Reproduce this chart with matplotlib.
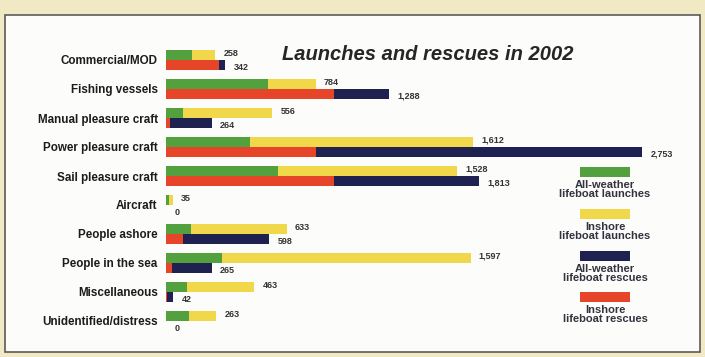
import matplotlib.pyplot as plt
from matplotlib.patches import Rectangle

# categories, top to bottom
categories = ['Commercial/MOD', 'Fishing vessels', 'Manual pleasure craft',
              'Power pleasure craft', 'Sail pleasure craft', 'Aircraft',
              'People ashore', 'People in the sea', 'Miscellaneous',
              'Unidentified/distress']

# launches (top bar of each pair)
allweather_launches = [137, 537, 89, 442, 589, 15, 130, 295, 110, 121]
inshore_launches = [121, 247, 467, 1170, 939, 20, 503, 1302, 353, 142]
launch_totals = [258, 784, 556, 1612, 1528, 35, 633, 1597, 463, 263]

# rescues (bottom bar of each pair)
inshore_rescues = [306, 971, 23, 867, 971, 0, 98, 35, 5, 0]
allweather_rescues = [36, 317, 241, 1886, 842, 0, 500, 230, 37, 0]
rescue_totals = [342, 1288, 264, 2753, 1813, 0, 598, 265, 42, 0]

legend_labels = ['All-weather\nlifeboat launches', 'Inshore\nlifeboat launches',
                 'All-weather\nlifeboat rescues', 'Inshore\nlifeboat rescues']

green = '#53a03f'
yellow = '#f1d84a'
navy = '#1f2150'
red = '#e6452a'
txt = '#1c1c1c'

W, H = 705, 357
fig = plt.figure(figsize=(W / 100, H / 100), dpi=100)
fig.patch.set_facecolor('#f0e9c3')

# white panel with frame
fig.add_artist(Rectangle((5 / W, 1 - 352 / H), 695 / W, 337 / H,
                         transform=fig.transFigure, facecolor='#fcfcfa',
                         edgecolor='#5a5a5a', lw=1.2, zorder=0))

# axes spanning the panel from the bar baseline
left, right, top, bottom = 166, 700, 15, 352
ax = fig.add_axes([left / W, 1 - bottom / H, (right - left) / W, (bottom - top) / H])
ax.set_facecolor('none')
ax2 = ax.twiny()

# rescue bars and launch bars are drawn on slightly different scales in the original
rescue_px = 0.1729
launch_px = 0.1907
ax.set_xlim(0, (right - left) / rescue_px)
ax2.set_xlim(0, (right - left) / launch_px)

row = 29.0
ytop = -(60 - top) / row
ax.set_ylim(ytop + (bottom - top) / row, ytop)

y = list(range(len(categories)))
bh = 0.34
yl = [v - bh / 2 for v in y]
yr = [v + bh / 2 for v in y]

ax2.barh(yl, allweather_launches, height=bh, color=green, lw=0)
ax2.barh(yl, inshore_launches, left=allweather_launches, height=bh, color=yellow, lw=0)
ax.barh(yr, inshore_rescues, height=bh, color=red, lw=0)
ax.barh(yr, allweather_rescues, left=inshore_rescues, height=bh, color=navy, lw=0)

for i in range(len(categories)):
    ax2.annotate(f'{launch_totals[i]:,}', (launch_totals[i], yl[i] - 0.07),
                 xytext=(6, 0), textcoords='offset points', ha='left', va='center',
                 fontsize=6.5, fontweight='bold', color='#333333', family='Liberation Sans')
    ax.annotate(f'{rescue_totals[i]:,}', (rescue_totals[i], yr[i] + 0.08),
                xytext=(6, 0), textcoords='offset points', ha='left', va='center',
                fontsize=6.5, fontweight='bold', color='#333333', family='Liberation Sans')

ax.set_yticks(y)
ax.set_yticklabels(categories, fontsize=8.4, fontweight='bold', color=txt,
                   family='Liberation Sans')
ax.tick_params(axis='y', length=0, pad=6)
for a in (ax, ax2):
    a.set_xticks([])
    for s in a.spines.values():
        s.set_visible(False)

fig.text(428 / W, 1 - 55 / H, 'Launches and rescues in 2002', ha='center', va='center',
         fontsize=14.5, fontweight='bold', style='italic', color='#262626',
         family='Liberation Sans')

# legend: patch with two-line label beneath
leg_colors = [green, yellow, navy, red]
leg_y = [167, 209, 251, 292]
for c, lab, py in zip(leg_colors, legend_labels, leg_y):
    fig.add_artist(Rectangle((580 / W, 1 - (py + 10) / H), 50 / W, 10 / H,
                             transform=fig.transFigure, facecolor=c, lw=0))
    fig.text(605 / W, 1 - (py + 13) / H, lab, ha='center', va='top',
             fontsize=8, fontweight='bold', color='#333340', linespacing=0.88,
             family='Liberation Sans')

plt.savefig('out.png', dpi=100, facecolor=fig.get_facecolor())
